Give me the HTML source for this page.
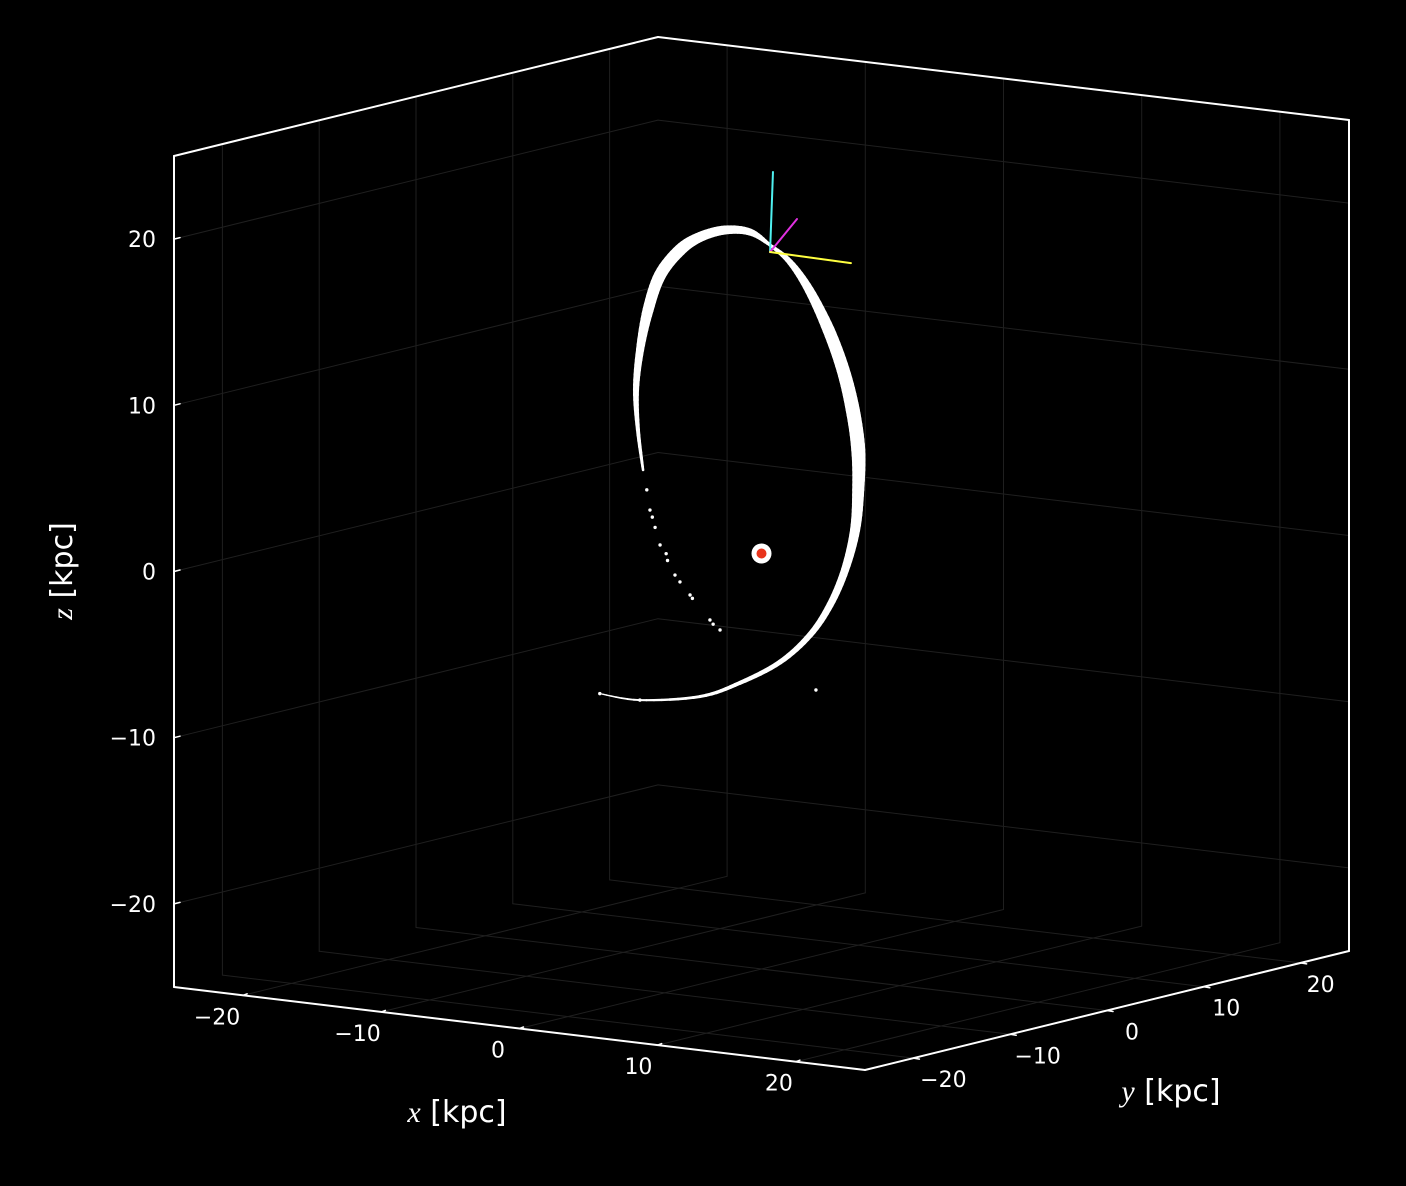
<!DOCTYPE html>
<html><head><meta charset="utf-8">
<style>
html,body{margin:0;padding:0;background:#000;}
svg{display:block;}
text{font-family:"DejaVu Sans","Liberation Sans",sans-serif;fill:#fff;}
</style></head>
<body>
<svg id="chart" width="1406" height="1186" viewBox="0 0 1406 1186" xmlns="http://www.w3.org/2000/svg">
<rect width="1406" height="1186" fill="#000"/>
<g id="grid"></g>
<g id="spines"></g>
<g id="ticks"></g>
<g id="stream"></g>
<g id="extras"></g>
<text x="457" y="1122" font-size="30" text-anchor="middle"><tspan font-family="Liberation Serif" font-style="italic">x</tspan> [kpc]</text>
<text x="1171" y="1101" font-size="30" text-anchor="middle"><tspan font-family="Liberation Serif" font-style="italic">y</tspan> [kpc]</text>
<text x="0" y="0" font-size="30" text-anchor="middle" transform="translate(72,571) rotate(-90)"><tspan font-family="Liberation Serif" font-style="italic">z</tspan> [kpc]</text>
</svg>
<script>
// ----- data -----
const xTicks = [-20, -10, 0, 10, 20];
const yTicks = [-20, -10, 0, 10, 20];
const zTicks = [-20, -10, 0, 10, 20];
const trackX = [-11.7,-8.8,-4.45,-1.56,1.34,3.51,4.96,6.04,6.77,7.0,7.0,6.6,5.9,4.85,3.45,2.06,0.62,-0.83,-2.64,-4.45,-5.9,-7.34,-8.21,-8.79,-9.08,-8.94,-8.57];
const trackY = [0,0,0,0,0,0,0,0,0,0,0,0,0,0,0,0,0,0,0,0,0,0,0,0,0,0,0];
const trackZ = [-9.6,-9.7,-9.05,-7.94,-6.4,-4.55,-2.6,-0.39,2.09,4.53,6.94,9.31,11.64,13.94,16.2,17.74,18.62,19.26,19.2,18.6,17.67,16.02,13.83,11.37,8.93,6.54,4.17];
const trackWidth = [1.2,2,3,4,5,6,7,8,10,12,14,14,13,12,9,6,3,7,9,10,12,12,11,8,6,4,2.5];
const starX = [-11.7,-8.8,-8.3,-8.07,-7.7,-7.34,-6.8,-6.26,-5.9,-5.17,-3.73,-3.5,-3.0,3.94,-7.9,-6.9,-5.0];
const starZ = [-9.6,-9.7,3.0,1.81,0.8,-0.22,-1.1,-1.92,-2.3,-3.01,-4.37,-4.6,-4.9,-7.82,1.4,-0.7,-3.2];
const progenitor = [0.62, 0, 18.2];
const dirCyan = [0.83, 0, 23.04];
const dirMagenta = [2.57, 0, 20.38];
const dirYellow = [6.47, 0, 18.12];
const sunPos = [0, 0, 0];

// ----- projection -----
const O=[174,987], EX=[13.82,1.66], EY=[9.68,-2.38], EZ=[0,-16.62];
function P(x,y,z){return [O[0]+(x+25)*EX[0]+(y+25)*EY[0]+(z+25)*EZ[0], O[1]+(x+25)*EX[1]+(y+25)*EY[1]+(z+25)*EZ[1]];}
const NS='http://www.w3.org/2000/svg';
function line(g,a,b,col,w){const l=document.createElementNS(NS,'line');
l.setAttribute('x1',a[0]);l.setAttribute('y1',a[1]);l.setAttribute('x2',b[0]);l.setAttribute('y2',b[1]);
l.setAttribute('stroke',col);l.setAttribute('stroke-width',w);l.setAttribute('stroke-linecap','round');g.appendChild(l);return l;}
const grid=document.getElementById('grid');
const gc='#1f1f1f';
yTicks.forEach(v=>{const l=line(grid,P(-25,v,-25),P(-25,v,25),gc,1);

});
zTicks.forEach(v=>{const l=line(grid,P(-25,-25,v),P(-25,25,v),gc,1);

});
xTicks.forEach(v=>{const l=line(grid,P(v,25,-25),P(v,25,25),gc,1);

});
zTicks.forEach(v=>{const l=line(grid,P(-25,25,v),P(25,25,v),gc,1);

});
xTicks.forEach(v=>{const l=line(grid,P(v,-25,-25),P(v,25,-25),gc,1);

});
yTicks.forEach(v=>{const l=line(grid,P(-25,v,-25),P(25,v,-25),gc,1);

});
const sp=document.getElementById('spines');
[[[-25,-25,-25],[-25,-25,25]],[[-25,-25,25],[-25,25,25]],[[-25,25,25],[25,25,25]],[[25,25,25],[25,25,-25]],[[-25,-25,-25],[25,-25,-25]],[[25,-25,-25],[25,25,-25]]].forEach(e=>{
const l=line(sp,P(...e[0]),P(...e[1]),'#fff',2);

});
const tg=document.getElementById('ticks');
function txt(s,x,y,anchor){const t=document.createElementNS(NS,'text');t.setAttribute('x',x);t.setAttribute('y',y);
t.setAttribute('font-size','22');t.setAttribute('text-anchor',anchor);t.textContent=s;tg.appendChild(t);return t;}
function lab(v){return v<0?'\u2212'+(-v):String(v);}
xTicks.forEach(v=>{const p=P(v,-25,-25);const f=(v+20)/40;
line(tg,p,[p[0]+4,p[1]-1.5],'#fff',1.5);
const t=txt(lab(v),p[0]-26+f*9,p[1]+29,'middle');

});
yTicks.forEach(v=>{const p=P(25,v,-25);const f=(v+20)/40;
line(tg,p,[p[0]+6,p[1]+1],'#fff',1.5);
const t=txt(lab(v),p[0]+30-f*10,p[1]+29,'middle');

});
zTicks.forEach(v=>{const p=P(-25,-25,v);
line(tg,p,[p[0]+6,p[1]-1.5],'#fff',1.5);
const t=txt(lab(v),p[0]-18,p[1]+8,'end');

});
const sg=document.getElementById('stream');
const n=trackX.length;
function pt(i){i=Math.max(0,Math.min(n-1,i));return P(trackX[i],trackY[i],trackZ[i]);}
function cr(a,b,c,d,t){const t2=t*t,t3=t2*t;return [0,1].map(k=>0.5*(2*b[k]+(-a[k]+c[k])*t+(2*a[k]-5*b[k]+4*c[k]-d[k])*t2+(-a[k]+3*b[k]-3*c[k]+d[k])*t3));}
const SUB=8;
for(let i=0;i<n-1;i++){
const a=pt(i-1),b=pt(i),c=pt(i+1),d=pt(i+2);
let prev=b;
for(let s=1;s<=SUB;s++){const t=s/SUB;const q=cr(a,b,c,d,t);
const w=trackWidth[i]+(trackWidth[i+1]-trackWidth[i])*(t-0.5/SUB);
const l=line(sg,prev,q,'#fff',w);


prev=q;}}
for(let i=0;i<starX.length;i++){const p=P(starX[i],0,starZ[i]);
const c=document.createElementNS(NS,'circle');c.setAttribute('cx',p[0]);c.setAttribute('cy',p[1]);c.setAttribute('r',1.7);c.setAttribute('fill','#fff');


sg.appendChild(c);}
const eg=document.getElementById('extras');
const pp=P(...progenitor);
[[dirCyan,'#4ff0f0','progenitor-axis-cyan'],[dirMagenta,'#e030e0','progenitor-axis-magenta'],[dirYellow,'#ffff40','progenitor-axis-yellow']].forEach(d=>{
const l=line(eg,pp,P(...d[0]),d[1],2);

});
const sp0=P(...sunPos);
const c1=document.createElementNS(NS,'circle');c1.setAttribute('cx',sp0[0]);c1.setAttribute('cy',sp0[1]);c1.setAttribute('r',10);c1.setAttribute('fill','#fff');


eg.appendChild(c1);
const c2=document.createElementNS(NS,'circle');c2.setAttribute('cx',sp0[0]);c2.setAttribute('cy',sp0[1]);c2.setAttribute('r',5);c2.setAttribute('fill','#e8341c');


eg.appendChild(c2);
</script>
</body></html>
